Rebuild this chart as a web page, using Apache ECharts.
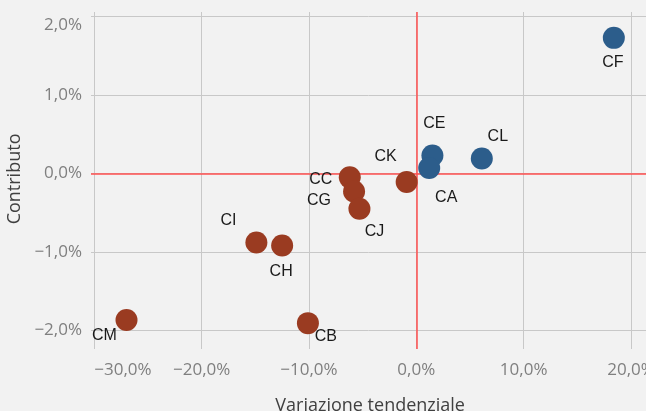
<!DOCTYPE html>
<html>
<head>
<meta charset="utf-8">
<script src="https://cdn.jsdelivr.net/npm/echarts@6/dist/echarts.min.js"></script>
<style>
  html, body { margin: 0; padding: 0; background: #f2f2f2; }
  #chart { width: 646px; height: 411px; }
</style>
</head>
<body>
<div id="chart"></div>
<script>
// Sector codes with year-on-year change (x, %) and contribution (y, %)
const codes        = ['CF', 'CE', 'CA', 'CL', 'CK', 'CC', 'CG', 'CJ', 'CI', 'CH', 'CM', 'CB'];
const variazione   = [18.4, 1.5, 1.2, 6.1, -0.9, -6.2, -5.8, -5.3, -14.9, -12.5, -27.0, -10.1];
const contributo   = [1.73, 0.23, 0.07, 0.19, -0.11, -0.05, -0.23, -0.45, -0.88, -0.92, -1.87, -1.91];

// Axis ticks
const xTicks = [-30, -20, -10, 0, 10, 20];
const yTicks = [-2, -1, 0, 1, 2];

// Where each code label sits relative to its marker
const labelOffsets = {
  CF: [-1, 25], CE: [2, -32], CA: [17, 30], CL: [16, -22],
  CK: [-21, -25], CC: [-29, 2], CG: [-35, 9], CJ: [15, 23],
  CI: [-28, -22], CH: [-1, 26], CM: [-22, 16], CB: [18, 13]
};

const BLUE = '#2c5d8b';
const BROWN = '#9a3b21';
const RED = '#ff4f4f';
const GRID_LINE = '#c8c8c8';
const TICK_FONT = { fontFamily: 'Open Sans', fontSize: 17, color: '#7f7f7f' };
const NAME_FONT = { fontFamily: 'Open Sans', fontSize: 18, color: '#404040' };

const fmt = v => (v < 0 ? '\u2212' : '') + Math.abs(v).toFixed(1).replace('.', ',') + '%';

function points(positive) {
  const out = [];
  codes.forEach((c, i) => {
    if ((variazione[i] > 0) === positive) {
      out.push({
        name: c,
        value: [variazione[i], contributo[i]],
        label: { offset: labelOffsets[c] }
      });
    }
  });
  return out;
}

const pointLabel = {
  show: true,
  position: 'inside',
  formatter: p => p.name,
  fontFamily: 'Liberation Sans',
  fontSize: 16,
  color: '#1a1a1a'
};

const chart = echarts.init(document.getElementById('chart'), null, { renderer: 'canvas' });

chart.setOption({
  backgroundColor: '#f2f2f2',
  animation: false,
  grid: [
    // plotting area: x scale and vertical grid lines
    { left: 94.3, right: 15, top: 12, bottom: 62, containLabel: false, outerBoundsMode: 'none' },
    // y scale: horizontal grid lines and labels
    { left: 91, right: 0, top: 16.7, bottom: 80.8, containLabel: false, outerBoundsMode: 'none' }
  ],
  xAxis: [
    {
      gridIndex: 0, type: 'value',
      min: xTicks[0], max: xTicks[xTicks.length - 1], interval: 10,
      axisLine: { show: false }, axisTick: { show: false },
      splitLine: { show: true, lineStyle: { color: GRID_LINE, width: 1 } },
      axisLabel: Object.assign({ margin: 13, formatter: fmt, alignMinLabel: 'left' }, TICK_FONT),
      name: 'Variazione tendenziale',
      nameLocation: 'middle',
      nameGap: 48,
      nameTextStyle: Object.assign({ padding: [0, 0, 0, 15] }, NAME_FONT)
    },
    {
      gridIndex: 1, type: 'value', min: 0, max: 1, show: false
    }
  ],
  yAxis: [
    {
      gridIndex: 0, type: 'value', min: -2.24, max: 2.06, show: false
    },
    {
      gridIndex: 1, type: 'value',
      min: yTicks[0], max: yTicks[yTicks.length - 1], interval: 1,
      axisLine: { show: false },
      axisTick: { show: false },
      splitLine: { show: true, lineStyle: { color: GRID_LINE, width: 1 } },
      axisLabel: Object.assign({ margin: 9, formatter: fmt, verticalAlignMaxLabel: 'top' }, TICK_FONT),
      name: 'Contributo',
      nameLocation: 'middle',
      nameRotate: 90,
      nameGap: 67,
      nameTextStyle: Object.assign({ padding: [0, 11, 0, 0] }, NAME_FONT)
    }
  ],
  series: [
    {
      // vertical zero line
      type: 'scatter', xAxisIndex: 0, yAxisIndex: 0, z: 1,
      data: [], symbolSize: 0,
      markLine: {
        silent: true, symbol: 'none', label: { show: false },
        lineStyle: { color: RED, width: 1.5, type: 'solid' },
        data: [{ xAxis: 0 }]
      }
    },
    {
      // horizontal zero line
      type: 'scatter', xAxisIndex: 1, yAxisIndex: 1, z: 1,
      data: [], symbolSize: 0,
      markLine: {
        silent: true, symbol: 'none', label: { show: false },
        lineStyle: { color: RED, width: 1.5, type: 'solid' },
        data: [{ yAxis: 0 }]
      }
    },
    {
      type: 'scatter', xAxisIndex: 0, yAxisIndex: 0, z: 5,
      symbolSize: 22,
      itemStyle: { color: BROWN, opacity: 1 },
      label: pointLabel,
      data: points(false)
    },
    {
      type: 'scatter', xAxisIndex: 0, yAxisIndex: 0, z: 5,
      symbolSize: 22,
      itemStyle: { color: BLUE, opacity: 1 },
      label: pointLabel,
      data: points(true)
    }
  ]
});
</script>
</body>
</html>
